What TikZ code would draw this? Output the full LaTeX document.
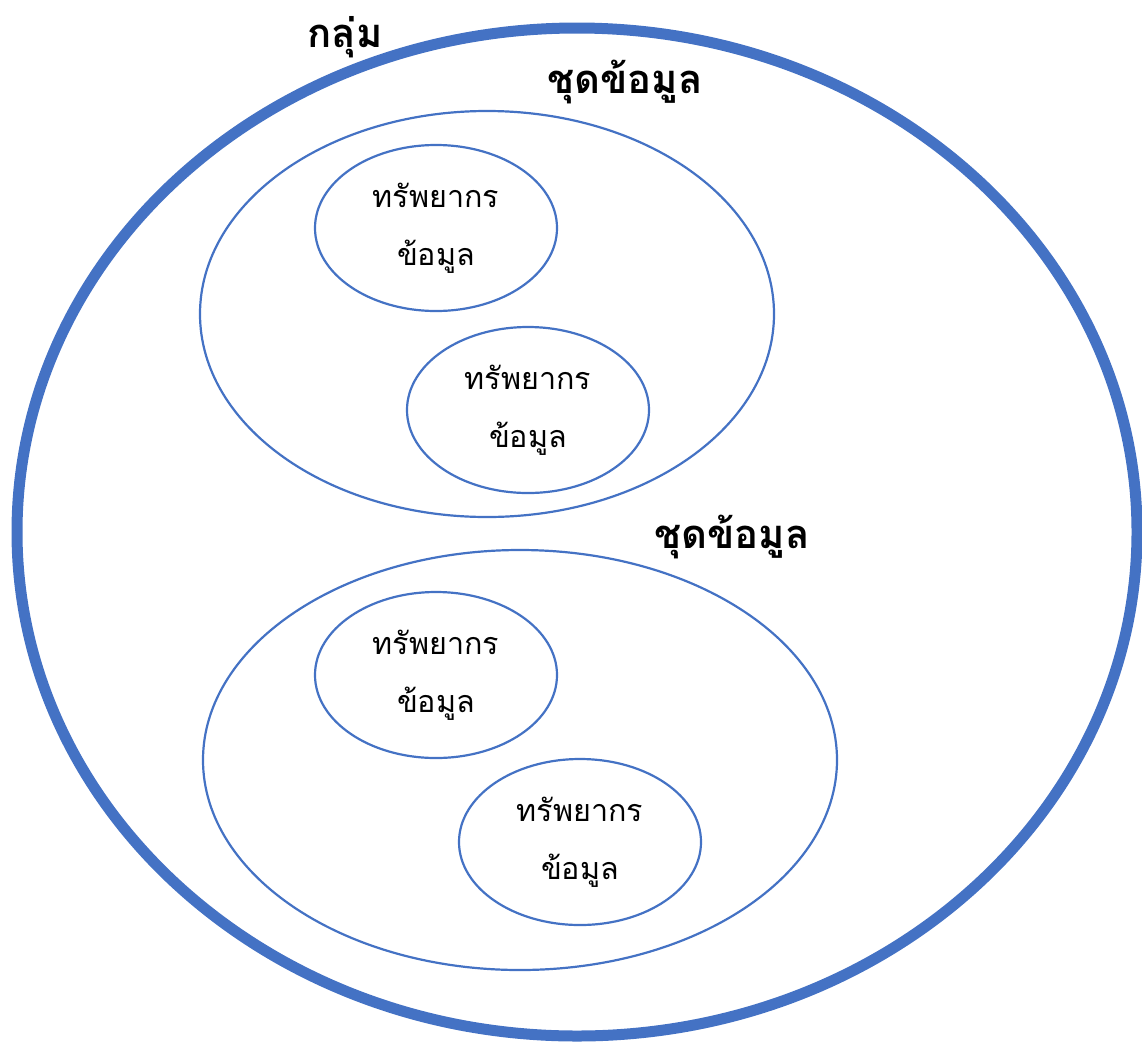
\documentclass[tikz,border=0pt]{standalone}
\usepackage{fontspec}
\newfontfamily\thaifont[Script=Thai]{Loma}
\usetikzlibrary{shapes.geometric,calc}
\definecolor{ob}{HTML}{4472C4}
\begin{document}
\begin{tikzpicture}[x=1pt,y=-1pt,
  ell/.style={ellipse, draw=ob, line width=2.2pt, inner sep=0pt, outer sep=0pt},
  groupell/.style={ell, line width=11pt, minimum width=1120pt, minimum height=1008pt},
  resell/.style={ell, minimum width=242pt, minimum height=166pt},
  lbl/.style={font=\thaifont\fontsize{30.5}{36}\selectfont, anchor=base, inner sep=0pt},
  ttl/.style={font=\thaifont\bfseries\fontsize{40}{48}\selectfont, anchor=base, inner sep=0pt}]
\useasboundingbox (0,0) rectangle (1142,1042);
\node[groupell] (group) at (577,532) {};
\node[ell, minimum width=574pt, minimum height=406pt] (ds1) at (487,314) {};
\node[ell, minimum width=634pt, minimum height=420pt] (ds2) at (520,760) {};
\node[resell] (r1) at (436,228) {};
\node[resell] (r2) at (528,410) {};
\node[resell] (r3) at (436,675) {};
\node[resell] (r4) at (580,842) {};
\foreach \r in {r1,r2,r3,r4} {
  \node[lbl] (\r a) at ($(\r)+(0,-21)$) {ทรัพยากร};
  \node[lbl] (\r b) at ($(\r)+(0,37)$) {ข้อมูล};
}
\node[ttl] (t0) at (345,47) {กลุ่ม};
\node[ttl] (t1) at (625,93) {ชุดข้อมูล};
\node[ttl] (t2) at (732,548) {ชุดข้อมูล};
\end{tikzpicture}
\end{document}
